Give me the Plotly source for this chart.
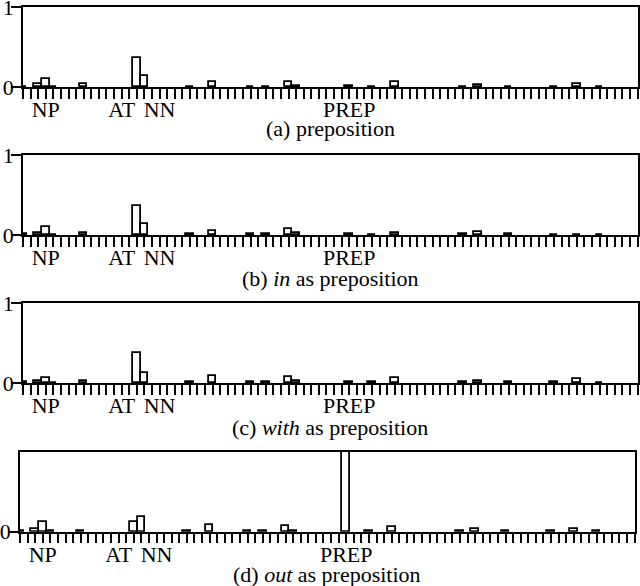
import plotly.graph_objects as go
from plotly.subplots import make_subplots

# tag positions that carry a bar (all other tags are zero)
cats = [0, 2, 3, 4, 8, 15, 16, 22, 25, 30, 32, 35, 36, 43, 46, 49, 58, 60, 64, 70, 73, 76]

prep_all = [0.01, 0.035, 0.10, 0, 0.035, 0.37, 0.145, 0.01, 0.07, 0.01, 0.01,
            0.07, 0.02, 0.02, 0.01, 0.06, 0.01, 0.03, 0.01, 0.01, 0.04, 0]
prep_in = [0.01, 0.03, 0.10, 0, 0.03, 0.36, 0.14, 0.01, 0.05, 0.01, 0.01,
           0.07, 0.02, 0.01, 0, 0.02, 0.01, 0.04, 0.01, 0, 0, 0]
prep_with = [0.01, 0.02, 0.06, 0, 0.025, 0.37, 0.12, 0.01, 0.09, 0.01, 0.01,
             0.07, 0.02, 0.01, 0.01, 0.06, 0.01, 0.02, 0.01, 0.01, 0.05, 0]
prep_out = [0.01, 0.04, 0.125, 0.01, 0.01, 0.125, 0.18, 0.01, 0.08, 0.01, 0.01,
            0.075, 0.015, 1.0, 0.01, 0.055, 0.01, 0.035, 0.01, 0.01, 0.04, 0.01]

n_tags = 81
tag_labels = {3: "NP", 13: "AT", 18: "NN", 43: "PREP"}

captions = ["(a) preposition",
            "(b) <i>in</i> as preposition",
            "(c) <i>with</i> as preposition",
            "(d) <i>out</i> as preposition"]
series = [prep_all, prep_in, prep_with, prep_out]

FONT = "Liberation Serif"
FS = 22
H = 586.0
W = 640.0

# panel pixel boxes: (left, right, top, bottom-zero, caption centre)
boxes = [(23, 637.5, 7, 87.3, 128),
         (23, 637.5, 155, 235, 278),
         (23, 637.5, 303, 383, 427),
         (20, 634.5, 452, 531.7, 574)]

fig = make_subplots(rows=4, cols=1)

tickvals = list(range(n_tags + 1))
ticktext = [tag_labels.get(t, "") for t in tickvals]

for i, vals in enumerate(series):
    r = i + 1
    fig.add_trace(go.Bar(x=cats, y=vals, width=1,
                         marker=dict(color="white", line=dict(color="black", width=1.8)),
                         showlegend=False, hoverinfo="skip"), row=r, col=1)
    l, rr, t, b, cy = boxes[i]
    fig.update_xaxes(range=[0, n_tags], domain=[l / W, rr / W], automargin=False,
                     tickvals=tickvals, ticktext=ticktext,
                     ticks="outside", ticklen=10, tickwidth=1.6, tickcolor="black",
                     ticklabelstandoff=-8, ticklabeloverflow="allow",
                     showline=True, linecolor="black", linewidth=1.5, mirror=True,
                     showgrid=False, zeroline=False,
                     tickfont=dict(family=FONT, size=FS, color="black"),
                     row=r, col=1)
    yt = [0] if i == 3 else [0, 1]
    fig.update_yaxes(range=[0, 1], domain=[1 - b / H, 1 - t / H], automargin=False,
                     tickvals=yt, ticktext=[str(v) for v in yt],
                     ticks="outside", ticklen=10, tickwidth=1.5, tickcolor="black",
                     ticklabelstandoff=-7, ticklabeloverflow="allow",
                     showline=True, linecolor="black", linewidth=1.5, mirror=True,
                     showgrid=False, zeroline=False,
                     tickfont=dict(family=FONT, size=FS, color="black"),
                     row=r, col=1)
    xref = "x domain" if r == 1 else "x%d domain" % r
    fig.add_annotation(text=captions[i], xref=xref, yref="paper",
                       x=0.5, y=1 - cy / H, xanchor="center", yanchor="middle",
                       showarrow=False,
                       font=dict(family=FONT, size=FS, color="black"))

fig.update_layout(width=640, height=586, margin=dict(l=0, r=0, t=0, b=0, autoexpand=False),
                  paper_bgcolor="white", plot_bgcolor="white", bargap=0)

# the page body has a default 8px margin; drop it so the figure sits at the corner
fig.write_html("out.html", config={"displayModeBar": False},
               post_script="document.body.style.margin='0';")
